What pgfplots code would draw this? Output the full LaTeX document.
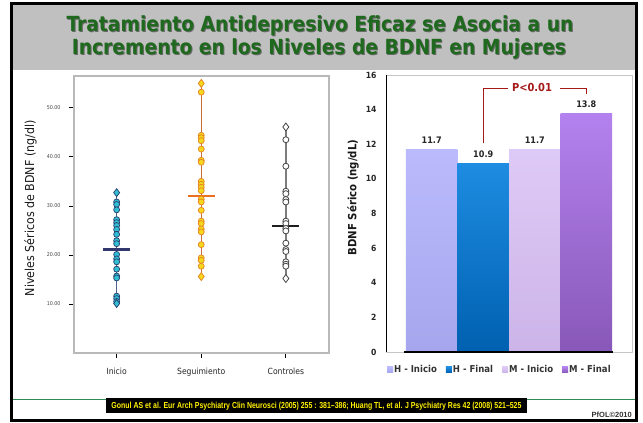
\documentclass[border=0pt]{standalone}
\usepackage{pgfplots}
\pgfplotsset{compat=1.18}
\usepackage{fontspec}
\setmainfont{DejaVu Sans}
\newfontfamily\cf{DejaVu Sans Condensed}
\newfontfamily\nf{Liberation Sans}[FakeStretch=0.8]
\newfontfamily\lf{Liberation Sans}
\definecolor{banner}{RGB}{192,192,192}
\definecolor{titlegreen}{RGB}{30,105,30}
\definecolor{greenline}{RGB}{46,139,87}
\definecolor{pred}{RGB}{165,25,25}
\definecolor{hiniT}{RGB}{186,186,252}
\definecolor{hiniB}{RGB}{166,166,238}
\definecolor{hfinT}{RGB}{30,140,225}
\definecolor{hfinB}{RGB}{0,96,176}
\definecolor{miniT}{RGB}{222,202,246}
\definecolor{miniB}{RGB}{204,180,232}
\definecolor{mfinT}{RGB}{180,130,238}
\definecolor{mfinB}{RGB}{136,88,184}
\definecolor{inifill}{RGB}{48,190,210}
\definecolor{inidraw}{RGB}{40,60,110}
\definecolor{iniline}{RGB}{80,95,140}
\definecolor{inimed}{RGB}{50,55,110}
\definecolor{segfill}{RGB}{245,215,30}
\definecolor{segdraw}{RGB}{230,130,30}
\definecolor{segline}{RGB}{200,110,60}
\definecolor{segmed}{RGB}{232,112,30}
\definecolor{condraw}{RGB}{70,70,70}
\definecolor{conline}{RGB}{125,125,125}
\definecolor{conmed}{RGB}{30,30,30}
\begin{document}
\begin{tikzpicture}
\path[use as bounding box] (0pt,0pt) rectangle (643pt,423pt);
\fill[white] (0pt,0pt) rectangle (643pt,423pt);
% banner
\fill[banner] (11pt,353pt) rectangle (635pt,419pt);
\node[anchor=base, inner sep=0pt, text=black, opacity=0.45, font=\cf\bfseries\fontsize{20.8}{22}\selectfont] at (321pt,390.3pt) {Tratamiento Antidepresivo Eficaz se Asocia a un};
\node[anchor=base, inner sep=0pt, text=titlegreen, font=\cf\bfseries\fontsize{20.8}{22}\selectfont] at (320pt,391.3pt) {Tratamiento Antidepresivo Eficaz se Asocia a un};
\node[anchor=base, inner sep=0pt, text=black, opacity=0.45, font=\cf\bfseries\fontsize{20.8}{22}\selectfont] at (320pt,367pt) {Incremento en los Niveles de BDNF en Mujeres};
\node[anchor=base, inner sep=0pt, text=titlegreen, font=\cf\bfseries\fontsize{20.8}{22}\selectfont] at (319pt,368pt) {Incremento en los Niveles de BDNF en Mujeres};

% left y label
\node[rotate=90, font=\cf\fontsize{12.3}{14}\selectfont, text=black!90] at (30.5pt,214.7pt) {Niveles Séricos de BDNF (ng/dl)};

% ---------- left dot plot ----------
\begin{axis}[at={(74pt,70pt)}, anchor=south west, scale only axis,
  width=255pt, height=277pt,
  xmin=0.496, xmax=3.51, ymin=0, ymax=56.5,
  axis line style={draw=gray!55, line width=1.2pt},
  tick style={black, line width=0.8pt}, major tick length=5pt,
  tick align=outside, tick pos=left,
  xtick={1,2,3}, xticklabels={Inicio,Seguimiento,Controles},
  ytick={10,20,30,40,50}, yticklabels={10.00,20.00,30.00,40.00,50.00},
  xticklabel style={font=\cf\fontsize{8.5}{10}\selectfont, text=black!85, yshift=-7pt},
  yticklabel style={font=\cf\fontsize{5.3}{6}\selectfont, text=gray!55!black, xshift=-5pt},
  clip=false]
% Inicio
\addplot[iniline, line width=1.3pt] coordinates {(1,10.1) (1,32.7)};
\addplot[only marks, mark=*, mark size=3pt, mark options={draw=inidraw, fill=inifill, line width=0.7pt}] coordinates {
(1,30.8) (1,30.3) (1,29.2) (1,27.2) (1,26.6) (1,26.0) (1,25.2) (1,24.2) (1,22.9) (1,22.3)
(1,20.1) (1,19.2) (1,18.6) (1,17.1) (1,15.7) (1,15.3) (1,11.6) (1,11.1) (1,10.5)};
\addplot[only marks, mark=diamond*, mark size=4pt, mark options={draw=inidraw, fill=inifill, line width=0.7pt}] coordinates {(1,32.7) (1,10.1)};
\addplot[inimed, line width=2.2pt] coordinates {(0.84,21.1) (1.16,21.1)};
% Seguimiento
\addplot[segline, line width=1.3pt] coordinates {(2,15.6) (2,55.0)};
\addplot[only marks, mark=*, mark size=3pt, mark options={draw=segdraw, fill=segfill, line width=0.7pt}] coordinates {
(2,53.2) (2,44.4) (2,43.9) (2,43.3) (2,41.6) (2,39.3) (2,38.9) (2,35.0) (2,34.4) (2,33.8)
(2,33.1) (2,31.4) (2,30.8) (2,29.1) (2,26.9) (2,26.4) (2,25.3) (2,24.7) (2,22.1) (2,19.4)
(2,18.9) (2,17.7)};
\addplot[only marks, mark=diamond*, mark size=4pt, mark options={draw=segdraw, fill=segfill, line width=0.7pt}] coordinates {(2,55.0) (2,15.6)};
\addplot[segmed, line width=2.2pt] coordinates {(1.84,32.1) (2.16,32.1)};
% Controles
\addplot[conline, line width=1.3pt] coordinates {(3,15.2) (3,46.1)};
\addplot[only marks, mark=*, mark size=3pt, mark options={draw=condraw, fill=white, line width=0.8pt}] coordinates {
(3,43.5) (3,38.1) (3,33.0) (3,32.5) (3,31.3) (3,30.8) (3,26.9) (3,26.4) (3,25.4) (3,24.9)
(3,22.4) (3,21.1) (3,20.7) (3,18.6) (3,18.1) (3,17.7)};
\addplot[only marks, mark=diamond*, mark size=4pt, mark options={draw=condraw, fill=white, line width=0.8pt}] coordinates {(3,46.1) (3,15.2)};
\addplot[conmed, line width=2.2pt] coordinates {(2.84,25.9) (3.16,25.9)};
\end{axis}

% right y label
\node[rotate=90, font=\cf\bfseries\fontsize{11.3}{13}\selectfont, text=black!90] at (353pt,225.5pt) {BDNF Sérico (ng/dL)};

% ---------- right bar chart ----------
\begin{axis}[at={(386.5pt,71pt)}, anchor=south west, scale only axis,
  width=245.5pt, height=277pt,
  xmin=0.123, xmax=4.887, ymin=0, ymax=16,
  axis line style={draw=gray!45, line width=0.6pt},
  xtick=\empty, ytick={0,2,...,16}, yticklabels={0,2,4,6,8,10,12,14,16},
  major tick length=0pt,
  yticklabel style={font=\cf\bfseries\fontsize{8.5}{10}\selectfont, text=black!85, xshift=-6.4pt},
  clip=false,
  legend columns=4,
  legend style={at={(0.46,-0.064)}, anchor=center, draw=none, fill=none,
    font=\cf\bfseries\fontsize{9.5}{11}\selectfont, text=black!80,
    /tikz/every even column/.append style={column sep=8pt},
    nodes={inner sep=1pt}},
  legend image code/.code={\fill[#1, draw=none] (0pt,-3pt) rectangle (6pt,3pt);}]
\addplot[ybar, bar width=51.5pt, bar shift=0pt, draw=none, top color=hiniT, bottom color=hiniB] coordinates {(1,11.7)};
\addlegendentry{H - Inicio}
\addplot[ybar, bar width=51.5pt, bar shift=0pt, draw=none, top color=hfinT, bottom color=hfinB] coordinates {(2,10.9)};
\addlegendentry{H - Final}
\addplot[ybar, bar width=51.5pt, bar shift=0pt, draw=none, top color=miniT, bottom color=miniB] coordinates {(3,11.7)};
\addlegendentry{M - Inicio}
\addplot[ybar, bar width=51.5pt, bar shift=0pt, draw=none, top color=mfinT, bottom color=mfinB] coordinates {(4,13.8)};
\addlegendentry{M - Final}
\draw[black, line width=0.8pt] (rel axis cs:0,0) -- (rel axis cs:0,1);
\draw[black, line width=2.6pt] (axis cs:0.46,0) -- (axis cs:4.52,0);
\node[anchor=base, yshift=6pt, font=\cf\bfseries\fontsize{9}{10}\selectfont, text=black!85] at (axis cs:1,11.7) {11.7};
\node[anchor=base, yshift=6pt, font=\cf\bfseries\fontsize{9}{10}\selectfont, text=black!85] at (axis cs:2,10.9) {10.9};
\node[anchor=base, yshift=6pt, font=\cf\bfseries\fontsize{9}{10}\selectfont, text=black!85] at (axis cs:3,11.7) {11.7};
\node[anchor=base, yshift=6pt, font=\cf\bfseries\fontsize{9}{10}\selectfont, text=black!85] at (axis cs:4,13.8) {13.8};
\draw[pred, line width=1pt] (axis cs:2,12.06) |- (axis cs:2.48,15.2);
\draw[pred, line width=1pt] (axis cs:3.49,15.2) -| (axis cs:4,14.9);
\node[font=\cf\bfseries\fontsize{11}{12}\selectfont, text=pred] at (axis cs:2.947,15.3) {P<0.01};
\end{axis}

% footnote
\draw[greenline, line width=1pt] (11pt,23pt) -- (106pt,23pt);
\draw[greenline, line width=1pt] (527pt,23pt) -- (635pt,23pt);
\fill[black] (106pt,9.5pt) rectangle (527pt,25pt);
\node[font=\nf\bfseries\fontsize{8.7}{9}\selectfont, text=yellow, inner sep=0pt] at (316.5pt,17.2pt) {Gonul AS et al. Eur Arch Psychiatry Clin Neurosci (2005) 255 : 381–386; Huang TL, et al. J Psychiatry Res 42 (2008) 521–525};
\node[anchor=base east, inner sep=0pt, font=\lf\bfseries\fontsize{7.5}{8}\selectfont, text=black!80] at (632pt,5.5pt) {PfOL©2010};
% frame
\draw[black, line width=3pt] (11pt,2.5pt) rectangle (636pt,419pt);
\end{tikzpicture}
\end{document}
